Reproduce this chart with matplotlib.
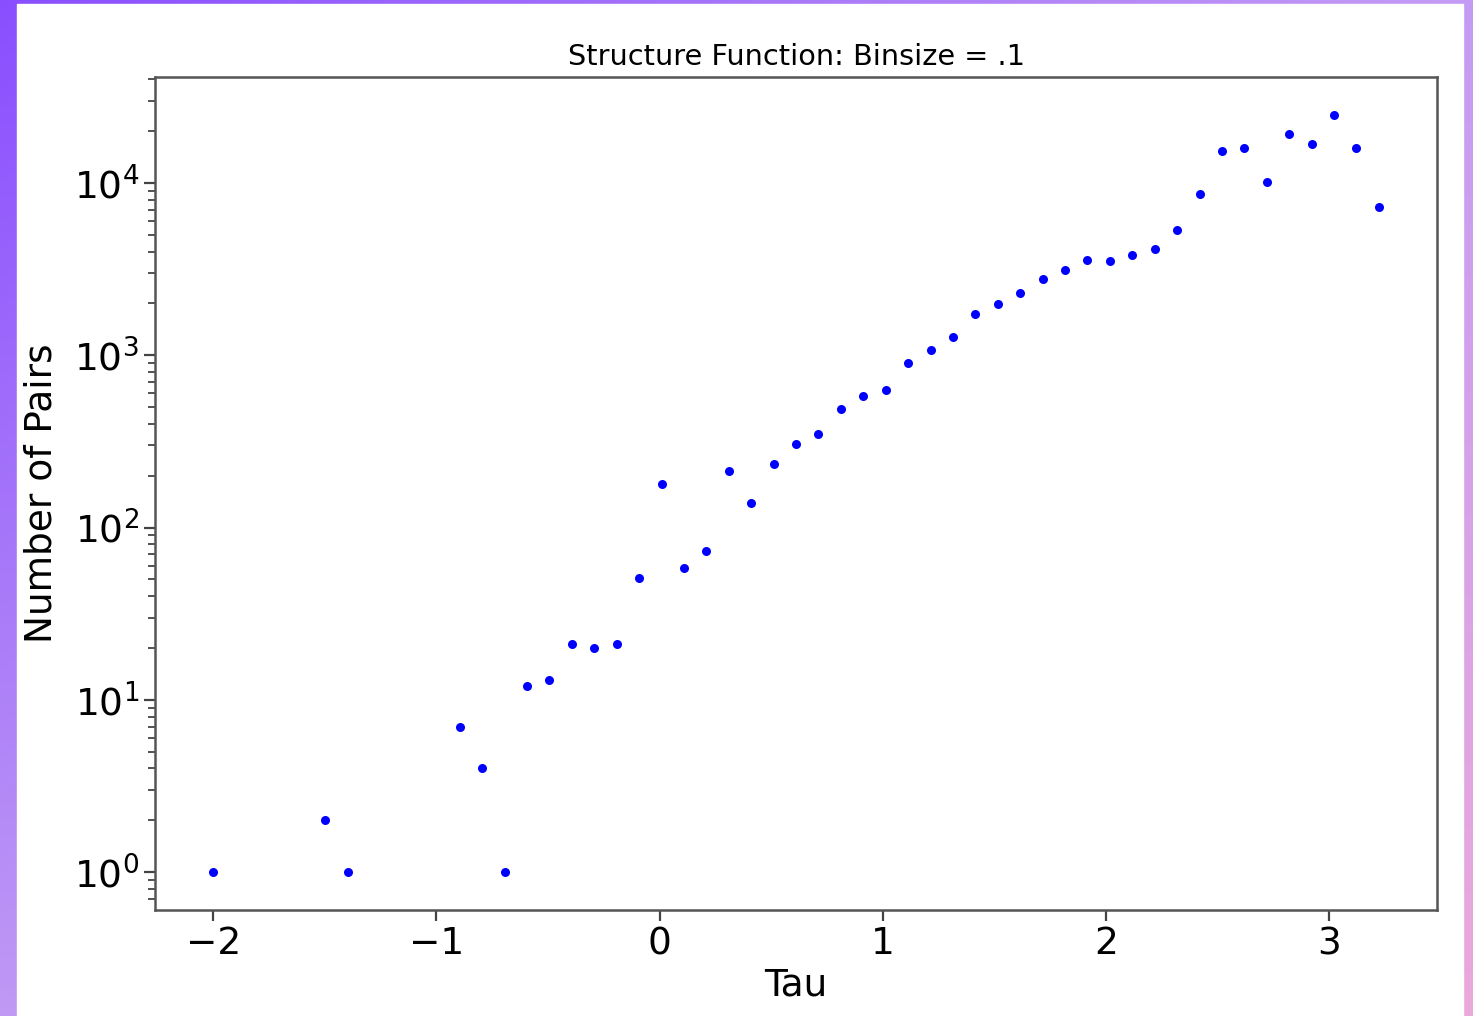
import numpy as np
import matplotlib
matplotlib.use("Agg")
import matplotlib.pyplot as plt
from matplotlib.patches import Rectangle

# ==========================
# Data
# ==========================

tau = [-2.0, -1.498, -1.398, -0.896, -0.795, -0.695, -0.594, -0.494, -0.394, -0.293,
       -0.193, -0.092, 0.008, 0.108, 0.209, 0.309, 0.410, 0.510, 0.610, 0.711,
       0.811, 0.912, 1.012, 1.112, 1.213, 1.313, 1.414, 1.514, 1.614, 1.715,
       1.815, 1.916, 2.016, 2.116, 2.217, 2.317, 2.418, 2.518, 2.618, 2.719,
       2.819, 2.920, 3.020, 3.120, 3.221]

pairs = [1, 2, 1, 7, 4, 1, 12, 13, 21, 20,
         21, 51, 178, 58, 73, 214, 138, 235, 304, 347,
         485, 577, 626, 898, 1069, 1273, 1731, 1980, 2291, 2766,
         3122, 3566, 3520, 3805, 4128, 5330, 8630, 15350, 15970, 10140,
         19270, 16870, 24830, 15970, 7250]

title = "Structure Function: Binsize = .1"
x_label = "Tau"
y_label = "Number of Pairs"

# ==========================
# Figure with gradient frame
# ==========================

fig = plt.figure(figsize=(14.73, 10.16), dpi=100)

bg = fig.add_axes([0, 0, 1, 1])
tl = np.array([0.54, 0.31, 1.00])
tr = np.array([0.77, 0.61, 0.96])
bl = np.array([0.75, 0.60, 0.96])
br = np.array([0.92, 0.66, 0.86])
u = np.linspace(0, 1, 200)[None, :, None]
v = np.linspace(0, 1, 140)[:, None, None]
grad = (1 - v) * ((1 - u) * tl + u * tr) + v * ((1 - u) * bl + u * br)
bg.imshow(grad, aspect="auto", extent=[0, 1, 0, 1])
bg.add_patch(Rectangle((0.0115, 0.0), 0.9817, 0.996, color="white"))
bg.set_xlim(0, 1)
bg.set_ylim(0, 1)
bg.axis("off")

# ==========================
# Scatter plot
# ==========================

ax = fig.add_axes([0.1052, 0.1043, 0.8704, 0.8199])

ax.plot(tau, pairs, "o", color="blue", markersize=6.5, markeredgewidth=0)
ax.set_yscale("log")

ax.set_title(title, fontsize=20.7, pad=9)
ax.set_xlabel(x_label, fontsize=27)
ax.set_ylabel(y_label, fontsize=27, labelpad=10)

ax.tick_params(axis="both", which="major", labelsize=27, length=8,
               width=1.6, color="#444444")
ax.tick_params(axis="y", which="minor", length=5, width=1.3, color="#444444")

for s in ax.spines.values():
    s.set_linewidth(1.8)
    s.set_color("#555555")

fig.savefig("out.png", dpi=100)
